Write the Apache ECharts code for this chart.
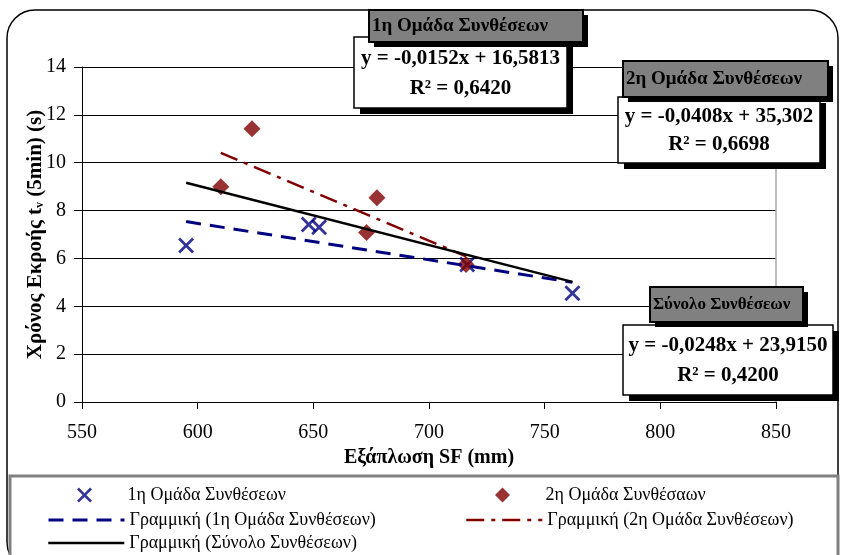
<!DOCTYPE html>
<html>
<head>
<meta charset="utf-8">
<script src="https://cdn.jsdelivr.net/npm/echarts@6/dist/echarts.min.js"></script>
<style>
  html, body { margin: 0; padding: 0; background: #fff; }
  #chart { width: 841px; height: 555px; }
</style>
</head>
<body>
<div id="chart"></div>
<script>
// values
var group1 = [[595, 6.54], [648, 7.42], [652.5, 7.3], [716.5, 5.75], [762, 4.54]];
var group2 = [[610, 9.0], [623.5, 11.42], [673, 7.08], [677.5, 8.54], [716, 5.75]];
// trend line ends (from the fitted equations shown in the boxes)
var trend1 = [[595, 7.54], [762, 5.0]];
var trend2 = [[610, 10.41], [716, 6.09]];
var trendAll = [[595, 9.16], [762, 5.02]];

var xTicks = { min: 550, max: 850, step: 50 };
var yTicks = { min: 0, max: 14, step: 2 };

var names = ['1η Ομάδα Συνθέσεων', '2η Ομάδα Συνθέσαων', 'Γραμμική (1η Ομάδα Συνθέσεων)',
    'Γραμμική (2η Ομάδα Συνθέσεων)', 'Γραμμική (Σύνολο Συνθέσεων)'];

var boxes = [
    { title: '1η Ομάδα Συνθέσεων', eq: 'y = -0,0152x + 16,5813', r2: 'R² = 0,6420', fs: 19,
      hx: 369, hy: 10, hw: 214, hh: 32, bx: 354, by: 37, bw: 213, bh: 71 },
    { title: '2η Ομάδα Συνθέσεων', eq: 'y = -0,0408x + 35,302', r2: 'R² = 0,6698', fs: 19,
      hx: 623, hy: 61, hw: 205, hh: 36, bx: 618, by: 97, bw: 202, bh: 66 },
    { title: 'Σύνολο Συνθέσεων', eq: 'y = -0,0248x + 23,9150', r2: 'R² = 0,4200', fs: 17,
      hx: 650, hy: 287, hw: 153, hh: 35, bx: 623, by: 325, bw: 210, bh: 70 }
];

var SERIF = '"Liberation Serif", "DejaVu Serif", serif';
var NAVY = '#000080';
var MAROON = '#800000';

var xPath = 'path://M0,2L2,0L8,6L14,0L16,2L10,8L16,14L14,16L8,10L2,16L0,14L6,8Z';
var diamondPath = 'path://M8,0L16,8L8,16L0,8Z';

function boxGraphics() {
    var out = [];
    boxes.forEach(function (b) {
        // shadows
        out.push({ type: 'rect', z: 100, shape: { x: b.bx + 6, y: b.by + 6, width: b.bw, height: b.bh },
            style: { fill: '#000' } });
        out.push({ type: 'rect', z: 101, shape: { x: b.bx, y: b.by, width: b.bw, height: b.bh },
            style: { fill: '#fff', stroke: '#000', lineWidth: 1.5 } });
        out.push({ type: 'rect', z: 102, shape: { x: b.hx + 5, y: b.hy + 5, width: b.hw, height: b.hh },
            style: { fill: '#000' } });
        out.push({ type: 'rect', z: 103, shape: { x: b.hx, y: b.hy, width: b.hw, height: b.hh },
            style: { fill: '#808080', stroke: '#000', lineWidth: 2 } });
        out.push({ type: 'text', z: 104, x: b.hx + 3, y: b.hy + b.hh / 2,
            style: { text: b.title, fill: '#000', font: 'bold ' + b.fs + 'px ' + SERIF, verticalAlign: 'middle' } });
        out.push({ type: 'text', z: 104, x: b.bx + b.bw / 2, y: b.by + b.bh * 0.3,
            style: { text: b.eq, fill: '#000', font: 'bold 21px ' + SERIF, align: 'center', verticalAlign: 'middle' } });
        out.push({ type: 'text', z: 104, x: b.bx + b.bw / 2, y: b.by + b.bh * 0.72,
            style: { text: b.r2, fill: '#000', font: 'bold 21px ' + SERIF, align: 'center', verticalAlign: 'middle' } });
    });
    return out;
}

function legendAt(name, left, top, lineWidth) {
    return {
        data: [name], left: left, top: top, padding: 0,
        itemWidth: 76, itemHeight: 15, itemGap: 0,
        lineStyle: { width: lineWidth || 2 },
        textStyle: { fontFamily: SERIF, fontSize: 18, color: '#000' }
    };
}

var myChart = echarts.init(document.getElementById('chart'), null, { renderer: 'canvas' });

var option = {
    animation: false,
    backgroundColor: '#fff',
    grid: { left: 82, right: 65, top: 67, bottom: 153 },
    legend: [
        legendAt(names[0], 77, 486),
        legendAt(names[1], 495, 486),
        legendAt(names[2], 47, 511, 3),
        legendAt(names[3], 465, 511, 2.5),
        legendAt(names[4], 47, 534, 2.5)
    ],
    xAxis: {
        type: 'value', min: xTicks.min, max: xTicks.max, interval: xTicks.step,
        name: 'Εξάπλωση SF (mm)', nameLocation: 'middle', nameGap: 45,
        nameTextStyle: { fontFamily: SERIF, fontSize: 20, fontWeight: 'bold', color: '#000' },
        axisLine: { lineStyle: { color: '#000', width: 1 } },
        axisTick: { length: 7, lineStyle: { color: '#000' } },
        axisLabel: { fontFamily: SERIF, fontSize: 20, color: '#000', margin: 21 },
        splitLine: { show: false }
    },
    yAxis: [{
        type: 'value', min: yTicks.min, max: yTicks.max, interval: yTicks.step,
        name: '{a|Χρόνος Εκροής t}{s|v}{a| (5min) (s)}', nameLocation: 'middle', nameGap: 36,
        nameMoveOverlap: false,
        nameTextStyle: {
            rich: {
                a: { fontFamily: SERIF, fontSize: 21, fontWeight: 'bold', color: '#000' },
                s: { fontFamily: SERIF, fontSize: 12, fontWeight: 'bold', color: '#000', verticalAlign: 'bottom' }
            }
        },
        axisLine: { show: true, lineStyle: { color: '#000', width: 1 } },
        axisTick: { show: true, length: 8, lineStyle: { color: '#000' } },
        axisLabel: { fontFamily: SERIF, fontSize: 20, color: '#000', margin: 16 },
        splitLine: { show: true, lineStyle: { color: '#000', width: 1 } }
    }, {
        type: 'value', min: yTicks.min, max: yTicks.max, interval: yTicks.step, position: 'right',
        axisLine: { show: true, lineStyle: { color: '#aaa', width: 1.5 } },
        axisTick: { show: false }, axisLabel: { show: false }, splitLine: { show: false }
    }],
    series: [{
        name: names[0], type: 'scatter', data: group1,
        symbol: xPath, symbolSize: 16, symbolKeepAspect: true,
        itemStyle: { color: NAVY }
    }, {
        name: names[1], type: 'scatter', data: group2,
        symbol: diamondPath, symbolSize: 17, symbolKeepAspect: true,
        itemStyle: { color: MAROON }
    }, {
        name: names[2], type: 'line', data: trend1, symbol: 'none',
        itemStyle: { color: NAVY, opacity: 0 },
        lineStyle: { color: NAVY, width: 3, type: [15, 9], opacity: 1 }
    }, {
        name: names[3], type: 'line', data: trend2, symbol: 'none',
        itemStyle: { color: MAROON, opacity: 0 },
        lineStyle: { color: MAROON, width: 2.5, type: [18, 7, 4, 7], opacity: 1 }
    }, {
        name: names[4], type: 'line', data: trendAll, symbol: 'none',
        itemStyle: { color: '#000', opacity: 0 },
        lineStyle: { color: '#000', width: 2.5, opacity: 1 }
    }],
    graphic: [
        { type: 'rect', z: -10, silent: true, shape: { x: 7, y: 10, width: 831, height: 560, r: 28 },
          style: { fill: 'none', stroke: '#000', lineWidth: 1.5 } },
        { type: 'rect', z: -9, silent: true, shape: { x: 10, y: 476, width: 828, height: 90 },
          style: { fill: '#fff', stroke: '#808080', lineWidth: 3 } }
    ].concat(boxGraphics())
};

myChart.setOption(option);
</script>
</body>
</html>
